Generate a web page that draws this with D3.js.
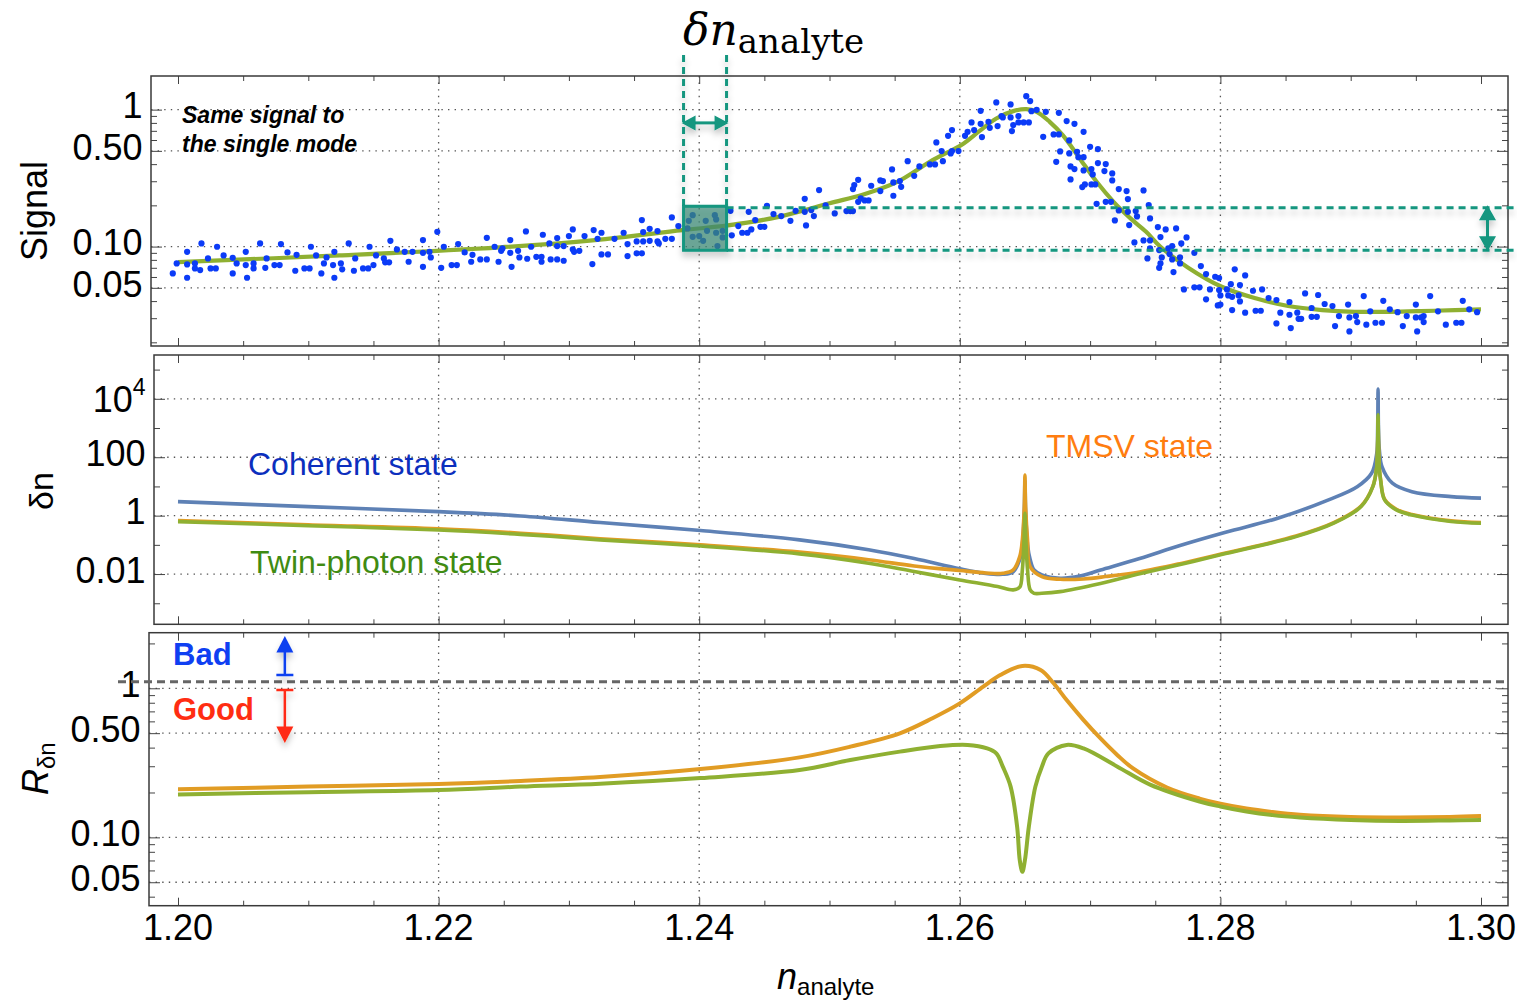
<!DOCTYPE html>
<html>
<head>
<meta charset="utf-8">
<script src="https://cdn.jsdelivr.net/npm/d3@7"></script>
<style>
  html, body { margin: 0; padding: 0; background: #fff; }
  svg { display: block; }
  text { font-family: "Liberation Sans", Arial, Helvetica, sans-serif; }
</style>
</head>
<body>
<svg id="chart" width="1517" height="1003"></svg>
<script>
// ---------------- data ----------------
const xTicks = [1.20, 1.22, 1.24, 1.26, 1.28, 1.30];
const xTickLabels = ["1.20", "1.22", "1.24", "1.26", "1.28", "1.30"];
const xGrid = [1.22, 1.24, 1.26, 1.28];

const signalTicks = [1, 0.5, 0.1, 0.05];
const signalTickLabels = ["1", "0.50", "0.10", "0.05"];
const signalMinor = [0.02, 0.03, 0.04, 0.06, 0.07, 0.08, 0.09, 0.2, 0.3, 0.4, 0.6, 0.7, 0.8, 0.9];

const deltaTicks = [1e4, 100, 1, 0.01];
const deltaTickLabels = [["10", "4"], ["100"], ["1"], ["0.01"]];
const deltaMinor = [1e5, 1e3, 10, 0.1, 0.001];

const ratioTicks = [1, 0.5, 0.1, 0.05];
const ratioTickLabels = ["1", "0.50", "0.10", "0.05"];
const ratioMinor = [0.04, 0.06, 0.07, 0.08, 0.09, 0.2, 0.3, 0.4, 0.6, 0.7, 0.8, 0.9, 2];

// fitted single-mode signal [n, signal]
const signalFit = [[1.2000,0.0771],[1.2124,0.0862],[1.2247,0.0987],[1.2320,0.1115],[1.2387,0.1319],[1.2422,0.1428],[1.2461,0.1649],[1.2500,0.2070],[1.2526,0.2404],[1.2552,0.2972],[1.2577,0.4159],[1.2603,0.5666],[1.2615,0.6967],[1.2628,0.862],[1.2641,0.975],[1.2651,1.008],[1.2659,0.964],[1.2669,0.8146],[1.2679,0.6514],[1.2692,0.4405],[1.2705,0.2972],[1.2718,0.2123],[1.2731,0.1606],[1.2743,0.1282],[1.2754,0.0997],[1.2775,0.0705],[1.2801,0.0509],[1.2827,0.0419],[1.2852,0.0368],[1.2878,0.0344],[1.2903,0.0334],[1.2929,0.0334],[1.2954,0.0338],[1.2980,0.0344],[1.3000,0.0348]];

// measured signal points [n, signal]
const signalDots = [
[1.1996,0.0637],[1.1999,0.0754],[1.2007,0.0916],[1.2007,0.0741],[1.2007,0.0592],[1.2013,0.0754],[1.2013,0.0693],[1.2017,0.0674],[1.2018,0.1055],[1.2023,0.0820],[1.2025,0.0693],[1.2029,0.0693],[1.2030,0.0997],[1.2035,0.0862],[1.2042,0.0828],[1.2042,0.0637],[1.2045,0.0754],[1.2052,0.0916],[1.2052,0.0733],[1.2053,0.0592],[1.2058,0.0754],[1.2058,0.0693],[1.2063,0.1055],[1.2067,0.0700],[1.2068,0.0820],[1.2074,0.0733],[1.2078,0.0733],[1.2079,0.1043],[1.2084,0.0907],[1.2090,0.0666],[1.2091,0.0871],[1.2097,0.0693],[1.2101,0.0693],[1.2102,0.0997],[1.2106,0.0862],[1.2110,0.0637],[1.2112,0.0754],[1.2114,0.0834],[1.2119,0.0733],[1.2120,0.0916],[1.2120,0.0592],[1.2125,0.0754],[1.2126,0.0682],[1.2131,0.1055],[1.2135,0.0666],[1.2136,0.0820],[1.2142,0.0693],[1.2146,0.0693],[1.2147,0.0997],[1.2150,0.0733],[1.2152,0.0862],[1.2158,0.0820],[1.2159,0.0767],[1.2163,0.1102],[1.2162,0.0767],[1.2168,0.0954],[1.2174,0.0916],[1.2177,0.0775],[1.2180,0.0916],[1.2188,0.1115],[1.2188,0.0901],[1.2188,0.0712],[1.2193,0.0916],[1.2194,0.0834],[1.2199,0.1282],[1.2202,0.0700],[1.2204,0.0997],[1.2210,0.0733],[1.2214,0.0733],[1.2215,0.1043],[1.2220,0.0907],[1.2225,0.0775],[1.2226,0.0871],[1.2232,0.0806],[1.2237,0.0806],[1.2237,0.1159],[1.2243,0.0997],[1.2246,0.0775],
[1.2248,0.0932],[1.2249,0.0970],[1.2255,0.1115],[1.2255,0.0901],[1.2256,0.0712],[1.2261,0.0932],[1.2262,0.0834],[1.2267,0.1291],[1.2268,0.0815],[1.2271,0.0997],[1.2275,0.0842],[1.2279,0.0842],[1.2279,0.0775],[1.2280,0.1220],[1.2285,0.1055],[1.2286,0.0806],[1.2291,0.0806],[1.2291,0.1153],[1.2291,0.1008],[1.2296,0.0788],[1.2296,0.1008],[1.2300,0.1193],[1.2303,0.1335],[1.2303,0.0954],[1.2304,0.0916],[1.2308,0.0932],[1.2312,0.1193],[1.2318,0.0745],[1.2319,0.1319],[1.2322,0.1140],[1.2325,0.1262],[1.2325,0.0877],[1.2330,0.0877],[1.2335,0.1140],[1.2342,0.1262],[1.2345,0.1043],[1.2345,0.0852],[1.2352,0.1091],[1.2352,0.0892],[1.2356,0.1561],[1.2356,0.0892],[1.2357,0.1276],[1.2357,0.1091],[1.2362,0.1349],[1.2362,0.1102],[1.2368,0.1297],[1.2368,0.1091],[1.2369,0.1055],[1.2374,0.1140],[1.2379,0.1140],[1.2379,0.1634],[1.2384,0.1412],[1.2391,0.1358],[1.2392,0.1543],[1.2395,0.1696],[1.2395,0.1179],[1.2400,0.1193],[1.2403,0.1102],[1.2405,0.1543],[1.2406,0.1304],[1.2412,0.1696],[1.2413,0.1579],[1.2413,0.1262],[1.2414,0.1008],[1.2418,0.1304],[1.2418,0.1167],[1.2424,0.1825],[1.2425,0.1208],[1.2430,0.1412],[1.2433,0.1262],[1.2437,0.1262],[1.2438,0.1795],[1.2440,0.1335],[1.2443,0.1561],[1.2447,0.1395],[1.2450,0.1395],[1.2452,0.1986],[1.2457,0.1726],[1.2463,0.1670],[1.2470,0.1543],[1.2474,0.1825],[1.2481,0.2233],[1.2481,0.1795],[1.2482,0.1428],[1.2486,0.1846],[1.2488,0.1670],[1.2492,0.2585],[1.2497,0.1999],[1.2504,0.1747],
[1.2513,0.1816],[1.2516,0.1816],[1.2518,0.1816],[1.2518,0.2628],[1.2519,0.2812],[1.2522,0.3073],[1.2522,0.2123],[1.2524,0.2249],[1.2527,0.2174],[1.2530,0.2174],[1.2532,0.2780],[1.2539,0.3041],[1.2539,0.2542],[1.2541,0.3007],[1.2548,0.3660],[1.2549,0.2941],[1.2549,0.2350],[1.2554,0.3007],[1.2555,0.2733],[1.2560,0.4207],[1.2565,0.3287],[1.2569,0.3848],[1.2577,0.3981],[1.2581,0.3981],[1.2582,0.5762],[1.2586,0.4980],[1.2587,0.4207],[1.2591,0.6437],[1.2593,0.4790],[1.2594,0.7086],[1.2594,0.4980],[1.2599,0.4980],[1.2604,0.6437],[1.2606,0.6886],[1.2609,0.8065],[1.2611,0.7086],[1.2616,0.9800],[1.2616,0.7878],[1.2617,0.6299],[1.2622,0.8146],[1.2623,0.7364],[1.2628,1.129],[1.2629,0.7578],[1.2632,0.8966],[1.2633,0.8770],[1.2639,1.091],[1.2640,0.6967],[1.2639,0.8770],[1.2641,0.7707],[1.2645,0.8966],[1.2645,0.8065],[1.2649,0.8065],[1.2651,1.254],[1.2653,0.8065],[1.2654,1.154],[1.2655,0.9750],[1.2659,0.9966],[1.2664,0.6331],[1.2666,0.9638],[1.2672,0.6590],[1.2674,0.4159],[1.2676,0.6590],[1.2676,0.9475],[1.2677,0.4954],[1.2682,0.8244],[1.2684,0.5955],[1.2684,0.4790],[1.2685,0.3848],[1.2685,0.3093],[1.2688,0.7878],[1.2688,0.3679],[1.2690,0.4920],[1.2691,0.4499],[1.2694,0.2719],[1.2695,0.6886],[1.2695,0.4499],[1.2695,0.3599],[1.2696,0.2844],[1.2700,0.5353],[1.2701,0.3679],[1.2701,0.2844],[1.2702,0.3365],[1.2704,0.2844],[1.2705,0.2053],[1.2706,0.5149],[1.2706,0.4070],[1.2711,0.3557],[1.2712,0.2123],[1.2712,0.4002],[1.2716,0.2123],[1.2717,0.3422],[1.2717,0.3041],[1.2719,0.1553],[1.2722,0.2628],[1.2722,0.1837],[1.2728,0.2542],[1.2729,0.2222],[1.2730,0.1435],[1.2729,0.1795],[1.2734,0.1073],[1.2735,0.1816],[1.2736,0.1661],[1.2741,0.2572],[1.2741,0.1110],[1.2744,0.0820],[1.2745,0.2010],[1.2746,0.1606],[1.2746,0.0970],[1.2746,0.1110],[1.2752,0.1388],[1.2753,0.0700],[1.2754,0.1173],
[1.2753,0.0943],[1.2754,0.0754],[1.2755,0.0834],[1.2758,0.1335],[1.2760,0.0970],[1.2761,0.0882],[1.2763,0.1008],[1.2763,0.0806],[1.2764,0.0651],[1.2766,0.1358],[1.2769,0.0834],[1.2769,0.0754],[1.2770,0.1055],[1.2772,0.0487],[1.2774,0.1167],[1.2780,0.0901],[1.2780,0.0504],[1.2784,0.0504],[1.2785,0.0721],[1.2789,0.0412],[1.2789,0.0630],[1.2792,0.0487],[1.2796,0.0602],[1.2798,0.0372],[1.2799,0.0589],[1.2799,0.0481],[1.2800,0.0377],[1.2800,0.0440],[1.2805,0.0487],[1.2806,0.0440],[1.2808,0.0532],[1.2809,0.0430],[1.2809,0.0344],[1.2811,0.0682],[1.2814,0.0440],[1.2815,0.0398],[1.2815,0.0524],[1.2819,0.0616],[1.2819,0.0329],[1.2825,0.0476],[1.2827,0.0340],[1.2831,0.0340],[1.2832,0.0487],[1.2837,0.0421],[1.2843,0.0407],[1.2843,0.0275],[1.2846,0.0329],[1.2853,0.0394],[1.2853,0.0318],[1.2854,0.0254],[1.2859,0.0329],[1.2860,0.0297],[1.2862,0.0297],[1.2865,0.0455],[1.2870,0.0356],[1.2870,0.0307],[1.2874,0.0307],[1.2875,0.0443],[1.2880,0.0381],[1.2886,0.0368],[1.2888,0.0263],[1.2891,0.0311],[1.2898,0.0377],[1.2899,0.0304],[1.2899,0.0240],[1.2904,0.0311],[1.2905,0.0281],[1.2910,0.0435],[1.2912,0.0269],[1.2915,0.0337],[1.2919,0.0278],[1.2924,0.0278],[1.2925,0.0402],[1.2930,0.0348],[1.2936,0.0332],[1.2940,0.0263],[1.2943,0.0311],[1.2950,0.0304],[1.2950,0.0377],[1.2951,0.0240],[1.2954,0.0304],[1.2956,0.0311],[1.2956,0.0281],[1.2961,0.0435],[1.2967,0.0337],[1.2973,0.0269],[1.2981,0.0278],[1.2985,0.0278],[1.2986,0.0402],[1.2991,0.0348],[1.2997,0.0332]
];

// phase uncertainty δn for each probe state [n, δn]
const coherent = [[1.2000,3.02],[1.2100,2.03],[1.2200,1.37],[1.2263,0.977],[1.2324,0.58],[1.2401,0.31],[1.2477,0.148],[1.2530,0.068],[1.2565,0.034],[1.2600,0.0152],[1.2620,0.0105],[1.2633,0.0098],[1.2641,0.012],[1.2646,0.0316],[1.2648,0.1],[1.26495,1.58],[1.2650,15.8],[1.26505,1.58],[1.2652,0.1],[1.2654,0.0316],[1.2657,0.0138],[1.2663,0.00933],[1.2677,0.0072],[1.2692,0.0085],[1.2708,0.0138],[1.2738,0.034],[1.2769,0.095],[1.2804,0.27],[1.2844,0.813],[1.2883,3.47],[1.2905,9.77],[1.2916,28.2],[1.2920,138],[1.29207,1000],[1.2921,21400],[1.29213,1000],[1.2922,178],[1.2924,47.9],[1.2932,12.9],[1.2947,6.61],[1.2977,4.47],[1.3000,3.98]];
const tmsv = [[1.2000,0.684],[1.2100,0.490],[1.2200,0.355],[1.2263,0.251],[1.2324,0.162],[1.2401,0.1],[1.2477,0.0562],[1.2530,0.031],[1.2565,0.019],[1.2600,0.0132],[1.2620,0.0109],[1.2633,0.0106],[1.2641,0.0138],[1.2646,0.0398],[1.2648,0.148],[1.26495,2.0],[1.2650,24.5],[1.26505,2.0],[1.2652,0.148],[1.2654,0.0178],[1.2663,0.00813],[1.2677,0.00661],[1.2695,0.0068],[1.2712,0.0082],[1.2738,0.0118],[1.2770,0.0232],[1.2804,0.0525],[1.2858,0.2],[1.2887,0.575],[1.2908,2.14],[1.2917,10],[1.2920,45],[1.29207,300],[1.2921,2000],[1.29213,300],[1.2922,40],[1.2923,16.5],[1.2926,3.63],[1.2935,1.66],[1.2947,1.10],[1.2977,0.661],[1.3000,0.575]];
const twin = [[1.2000,0.624],[1.2100,0.452],[1.2200,0.324],[1.2263,0.229],[1.2324,0.148],[1.2401,0.0912],[1.2477,0.049],[1.2530,0.0235],[1.2565,0.0122],[1.2600,0.00631],[1.2629,0.00372],[1.2641,0.00288],[1.2646,0.00355],[1.2648,0.0138],[1.26493,0.158],[1.2650,1.2],[1.26507,0.158],[1.2652,0.0138],[1.2654,0.00288],[1.2657,0.00219],[1.2663,0.00219],[1.2677,0.00251],[1.2708,0.00479],[1.2738,0.0102],[1.2770,0.0215],[1.2804,0.0505],[1.2858,0.191],[1.2887,0.55],[1.2908,2.04],[1.2917,9.77],[1.2920,47.9],[1.29207,398],[1.2921,2820],[1.29213,398],[1.2922,39.8],[1.2923,15.8],[1.2926,3.47],[1.2935,1.58],[1.2947,1.05],[1.2977,0.631],[1.3000,0.55]];

// ratio to the coherent-state uncertainty [n, R]
const ratioTMSV = [[1.2000,0.210],[1.2100,0.219],[1.2200,0.228],[1.2263,0.239],[1.2324,0.254],[1.2401,0.287],[1.2477,0.344],[1.2516,0.406],[1.2554,0.499],[1.2579,0.630],[1.2600,0.792],[1.2618,1.026],[1.2631,1.227],[1.2648,1.413],[1.2662,1.327],[1.2672,1.081],[1.2682,0.834],[1.2695,0.612],[1.2708,0.461],[1.2721,0.356],[1.2733,0.290],[1.2759,0.216],[1.2784,0.182],[1.2800,0.168],[1.2820,0.156],[1.2840,0.148],[1.2861,0.142],[1.2900,0.137],[1.2938,0.136],[1.2976,0.137],[1.3000,0.139]];
const ratioTwin = [[1.2000,0.194],[1.2100,0.201],[1.2200,0.2075],[1.2263,0.219],[1.2324,0.229],[1.2401,0.25],[1.2477,0.283],[1.2516,0.330],[1.2554,0.376],[1.2585,0.410],[1.2606,0.417],[1.2621,0.395],[1.2628,0.366],[1.2633,0.298],[1.2639,0.219],[1.2644,0.118],[1.2646,0.0705],[1.2648,0.0587],[1.2650,0.0705],[1.2653,0.118],[1.2658,0.219],[1.2663,0.298],[1.2668,0.366],[1.2682,0.417],[1.2695,0.395],[1.2721,0.298],[1.2746,0.226],[1.2784,0.174],[1.2800,0.161],[1.2820,0.149],[1.2840,0.141],[1.2861,0.136],[1.2900,0.131],[1.2938,0.129],[1.2976,0.130],[1.3000,0.131]];

const ratioThreshold = 1.107;
const windowN = [1.2388, 1.2421];
const windowS = [0.094, 0.197];

// ---------------- layout ----------------
const svg = d3.select("#chart");
const col = { blue: "#5E81B5", orange: "#E19C24", green: "#8FB032", teal: "#12967f", dot: "#0b3bf7" };

const x = d3.scaleLinear().domain([1.2, 1.3]).range([178, 1481]);

const panels = [
  { id: "sig", x0: 151, x1: 1508, y0: 76, y1: 346,
    y: d3.scaleLog().domain([0.0188, 1.76]).range([346, 76]),
    major: signalTicks, minor: signalMinor, labels: signalTickLabels },
  { id: "del", x0: 154, x1: 1508, y0: 355, y1: 624.3,
    y: d3.scaleLog().domain([Math.pow(10, -3.72), Math.pow(10, 5.5)]).range([624.3, 355]),
    major: deltaTicks, minor: deltaMinor, labels: deltaTickLabels },
  { id: "rat", x0: 149, x1: 1508, y0: 632.7, y1: 905.7,
    y: d3.scaleLog().domain([0.0348, 2.36]).range([905.7, 632.7]),
    major: ratioTicks, minor: ratioMinor, labels: ratioTickLabels }
];

const xMinor = d3.range(0, 21).map(i => +(1.2 + i * 0.005).toFixed(3)).filter(v => !xTicks.includes(v));

const defs = svg.append("defs");
const sh = defs.append("filter").attr("id", "shadow")
  .attr("filterUnits", "userSpaceOnUse").attr("x", 0).attr("y", 0).attr("width", 1517).attr("height", 1003);
sh.append("feDropShadow").attr("dx", 0).attr("dy", 5).attr("stdDeviation", 3.2)
  .attr("flood-color", "#000").attr("flood-opacity", 0.22);

function noDomain(g) { g.select(".domain").remove(); g.selectAll("line").attr("stroke", "#444"); }

panels.forEach(p => {
  const g = svg.append("g").attr("class", "panel-" + p.id);
  const grid = g.append("g").attr("stroke", "#555").attr("stroke-width", 1.3).attr("stroke-dasharray", "1.4 5.2");
  grid.selectAll(".hg").data(p.major).join("line")
    .attr("x1", p.x0).attr("x2", p.x1).attr("y1", d => p.y(d)).attr("y2", d => p.y(d));
  grid.selectAll(".vg").data(xGrid).join("line")
    .attr("x1", d => x(d)).attr("x2", d => x(d)).attr("y1", p.y0).attr("y2", p.y1);

  // inward-pointing frame ticks
  g.append("g").attr("transform", `translate(0,${p.y1})`).call(d3.axisBottom(x).tickValues(xTicks).tickSize(-8).tickFormat("")).call(noDomain);
  g.append("g").attr("transform", `translate(0,${p.y1})`).call(d3.axisBottom(x).tickValues(xMinor).tickSize(-5).tickFormat("")).call(noDomain);
  g.append("g").attr("transform", `translate(0,${p.y0})`).call(d3.axisTop(x).tickValues(xTicks).tickSize(-8).tickFormat("")).call(noDomain);
  g.append("g").attr("transform", `translate(0,${p.y0})`).call(d3.axisTop(x).tickValues(xMinor).tickSize(-5).tickFormat("")).call(noDomain);
  g.append("g").attr("transform", `translate(${p.x0},0)`).call(d3.axisLeft(p.y).tickValues(p.major).tickSize(-11).tickFormat("")).call(noDomain);
  g.append("g").attr("transform", `translate(${p.x0},0)`).call(d3.axisLeft(p.y).tickValues(p.minor).tickSize(-6).tickFormat("")).call(noDomain);
  g.append("g").attr("transform", `translate(${p.x1},0)`).call(d3.axisRight(p.y).tickValues(p.major).tickSize(-11).tickFormat("")).call(noDomain);
  g.append("g").attr("transform", `translate(${p.x1},0)`).call(d3.axisRight(p.y).tickValues(p.minor).tickSize(-6).tickFormat("")).call(noDomain);

  g.append("rect").attr("x", p.x0).attr("y", p.y0).attr("width", p.x1 - p.x0).attr("height", p.y1 - p.y0)
    .attr("fill", "none").attr("stroke", "#3a3a3a").attr("stroke-width", 1.5);

  // y tick labels
  p.major.forEach((v, i) => {
    const lab = p.labels[i];
    const t = g.append("text").attr("x", p.x0 - 8.5).attr("text-anchor", "end")
      .attr("font-size", 36).attr("fill", "#000");
    if (Array.isArray(lab) && lab.length === 2) {
      t.attr("y", p.y(v) + 13.5);
      t.append("tspan").text(lab[0]);
      t.append("tspan").attr("font-size", 23).attr("dy", -17).text(lab[1]);
    } else {
      t.attr("y", p.y(v) + 8.8).text(Array.isArray(lab) ? lab[0] : lab);
    }
  });
  p.g = g;
});

const [pSig, pDel, pRat] = panels;

// x tick labels
svg.append("g").selectAll("text").data(xTicks).join("text")
  .attr("x", d => x(d)).attr("y", 940).attr("text-anchor", "middle").attr("font-size", 36)
  .text((d, i) => xTickLabels[i]);

const smooth = d3.curveCatmullRom.alpha(0.5);

// ---------------- top panel: signal ----------------
const lineSig = d3.line().x(d => x(d[0])).y(d => pSig.y(d[1])).curve(smooth);
pSig.g.append("path").datum(signalFit).attr("d", lineSig)
  .attr("fill", "none").attr("stroke", col.green).attr("stroke-width", 4.2);
pSig.g.append("g").selectAll("circle").data(signalDots).join("circle")
  .attr("cx", d => x(d[0])).attr("cy", d => pSig.y(d[1])).attr("r", 3.1).attr("fill", col.dot);

pSig.g.append("text").attr("x", 182).attr("y", 123).attr("font-size", 23)
  .attr("font-weight", "bold").attr("font-style", "italic").text("Same signal to");
pSig.g.append("text").attr("x", 182).attr("y", 152).attr("font-size", 23)
  .attr("font-weight", "bold").attr("font-style", "italic").text("the single mode");

// measurement window annotation
const ann = svg.append("g").attr("filter", "url(#shadow)");
const bx0 = x(windowN[0]), bx1 = x(windowN[1]);
const by0 = pSig.y(windowS[1]), by1 = pSig.y(windowS[0]);
const dashStyle = sel => sel.attr("stroke", col.teal).attr("stroke-width", 3).attr("stroke-dasharray", "7 5").attr("fill", "none");

ann.append("line").attr("x1", bx0).attr("x2", bx0).attr("y1", 55).attr("y2", by0).call(dashStyle);
ann.append("line").attr("x1", bx1).attr("x2", bx1).attr("y1", 55).attr("y2", by0).call(dashStyle);
ann.append("line").attr("x1", bx1).attr("x2", 1517).attr("y1", by0 + 1.5).attr("y2", by0 + 1.5).call(dashStyle);
ann.append("line").attr("x1", bx1).attr("x2", 1517).attr("y1", by1).attr("y2", by1).call(dashStyle);
ann.append("rect").attr("x", bx0).attr("y", by0).attr("width", bx1 - bx0).attr("height", by1 - by0)
  .attr("fill", "#3d8a78").attr("fill-opacity", 0.7).attr("stroke", col.teal).attr("stroke-width", 3);

// horizontal double arrow (δn window)
const ay = pSig.y(0.8);
ann.append("line").attr("x1", bx0 + 10).attr("x2", bx1 - 10).attr("y1", ay).attr("y2", ay)
  .attr("stroke", col.teal).attr("stroke-width", 3);
ann.append("path").attr("fill", col.teal)
  .attr("d", `M${bx0 - 2},${ay} l14,-7.5 l0,15 Z M${bx1 + 2},${ay} l-14,-7.5 l0,15 Z`);

// vertical double arrow (signal window)
const vx = x(1.3005);
ann.append("line").attr("x1", vx).attr("x2", vx).attr("y1", by0 + 10).attr("y2", by1 - 10)
  .attr("stroke", col.teal).attr("stroke-width", 3);
ann.append("path").attr("fill", col.teal)
  .attr("d", `M${vx},${by0 - 1} l-8.5,15 l17,0 Z M${vx},${by1 + 1} l-8.5,-15 l17,0 Z`);

// header label
const hdr = svg.append("text").attr("x", 683).attr("y", 45).style("font-family", "'DejaVu Serif', 'Liberation Serif', serif");
hdr.append("tspan").attr("font-style", "italic").attr("font-size", 44).text("δn");
hdr.append("tspan").attr("font-size", 34).attr("dy", 8).text("analyte");

// ---------------- middle panel: δn ----------------
const lineDel = d3.line().x(d => x(d[0])).y(d => pDel.y(d[1])).curve(smooth);
[[coherent, col.blue], [tmsv, col.orange], [twin, col.green]].forEach(([data, c]) => {
  pDel.g.append("path").datum(data).attr("d", lineDel)
    .attr("fill", "none").attr("stroke", c).attr("stroke-width", 3.6).attr("stroke-linejoin", "round");
});
pDel.g.append("text").attr("x", 248).attr("y", 475).attr("font-size", 32).attr("fill", "#0c2fbd").text("Coherent state");
pDel.g.append("text").attr("x", 250).attr("y", 573).attr("font-size", 32).attr("fill", "#3f8b12").text("Twin-photon state");
pDel.g.append("text").attr("x", 1046).attr("y", 457).attr("font-size", 32).attr("fill", "#ff7d10").text("TMSV state");

// ---------------- bottom panel: ratio ----------------
const lineRat = d3.line().x(d => x(d[0])).y(d => pRat.y(d[1])).curve(smooth);
const ty = pRat.y(ratioThreshold);
pRat.g.append("line").attr("x1", 118).attr("x2", pRat.x1).attr("y1", ty).attr("y2", ty)
  .attr("stroke", "#666").attr("stroke-width", 3).attr("stroke-dasharray", "8 5");
[[ratioTMSV, col.orange], [ratioTwin, col.green]].forEach(([data, c]) => {
  pRat.g.append("path").datum(data).attr("d", lineRat)
    .attr("fill", "none").attr("stroke", c).attr("stroke-width", 4).attr("stroke-linejoin", "round");
});

// Bad / Good indicators
const ind = svg.append("g").attr("filter", "url(#shadow)");
const ix = x(1.2082);
const badBar = pRat.y(1.228), badTip = pRat.y(2.244);
const goodBar = pRat.y(0.974), goodTip = pRat.y(0.43);
ind.append("line").attr("x1", ix - 8.5).attr("x2", ix + 8.5).attr("y1", badBar).attr("y2", badBar).attr("stroke", "#1040f0").attr("stroke-width", 2.5);
ind.append("line").attr("x1", ix).attr("x2", ix).attr("y1", badBar).attr("y2", badTip + 12).attr("stroke", "#1040f0").attr("stroke-width", 2.5);
ind.append("path").attr("fill", "#1040f0").attr("d", `M${ix},${badTip} l-8.5,16.5 l17,0 Z`);
ind.append("line").attr("x1", ix - 8.5).attr("x2", ix + 8.5).attr("y1", goodBar).attr("y2", goodBar).attr("stroke", "#ff2a12").attr("stroke-width", 2.5);
ind.append("line").attr("x1", ix).attr("x2", ix).attr("y1", goodBar).attr("y2", goodTip - 12).attr("stroke", "#ff2a12").attr("stroke-width", 2.5);
ind.append("path").attr("fill", "#ff2a12").attr("d", `M${ix},${goodTip} l-8.5,-16.5 l17,0 Z`);

svg.append("text").attr("x", 173).attr("y", 665).attr("font-size", 31).attr("font-weight", "bold").attr("fill", "#0f3ff2").text("Bad");
svg.append("text").attr("x", 173).attr("y", 720).attr("font-size", 31).attr("font-weight", "bold").attr("fill", "#ff2d12").text("Good");

// ---------------- axis titles ----------------
svg.append("text").attr("transform", "translate(47,211) rotate(-90)").attr("text-anchor", "middle")
  .attr("font-size", 36).text("Signal");
svg.append("text").attr("transform", "translate(53,491) rotate(-90)").attr("text-anchor", "middle")
  .attr("font-size", 34).text("δn");
const rt = svg.append("text").attr("transform", "translate(48,795) rotate(-90)").attr("font-size", 36);
rt.append("tspan").attr("font-style", "italic").text("R");
rt.append("tspan").attr("font-size", 24).attr("dy", 7).text("δn");

const xt = svg.append("text").attr("x", 777).attr("y", 989).attr("font-size", 36);
xt.append("tspan").attr("font-style", "italic").text("n");
xt.append("tspan").attr("font-size", 24).attr("dy", 6).text("analyte");
</script>
</body>
</html>
